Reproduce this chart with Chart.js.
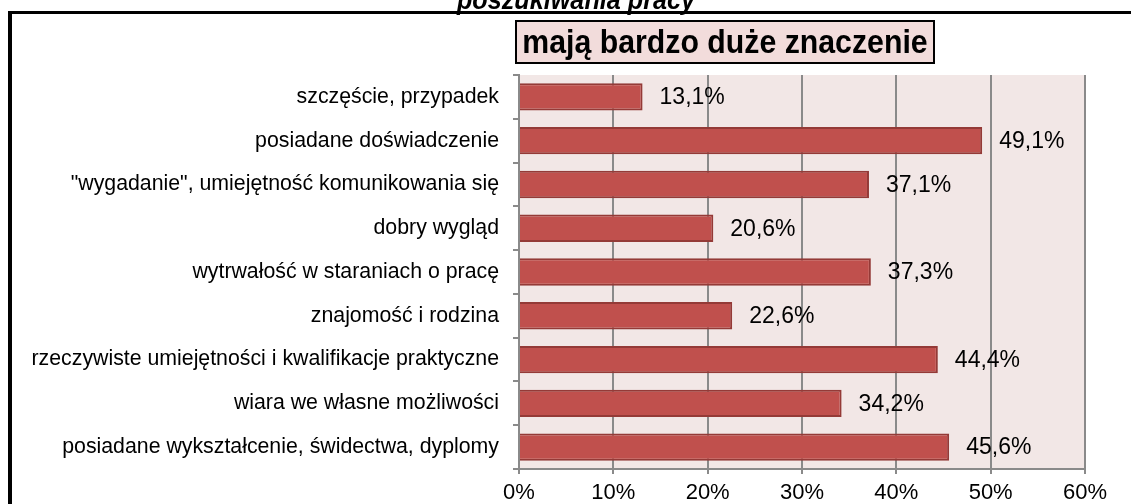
<!DOCTYPE html>
<html>
<head>
<meta charset="utf-8">
<script src="https://cdn.jsdelivr.net/npm/chart.js@4/dist/chart.umd.min.js"></script>
<style>
  html, body { margin: 0; padding: 0; background: #ffffff; overflow: hidden; }
  #wrap { position: relative; width: 1131px; height: 504px; }
  canvas { display: block; }
</style>
</head>
<body>
<div id="wrap"><canvas id="chart" width="1131" height="504"></canvas></div>
<script>
// Categories, top to bottom
const categories = [
  'szczęście, przypadek',
  'posiadane doświadczenie',
  '"wygadanie", umiejętność komunikowania się',
  'dobry wygląd',
  'wytrwałość w staraniach o pracę',
  'znajomość i rodzina',
  'rzeczywiste umiejętności i kwalifikacje praktyczne',
  'wiara we własne możliwości',
  'posiadane wykształcenie, świdectwa, dyplomy'
];

// Share of answers "mają bardzo duże znaczenie", in percent
const values = [13.1, 49.1, 37.1, 20.6, 37.3, 22.6, 44.4, 34.2, 45.6];

// Value axis tick labels (0 to 60 in steps of 10)
const tickLabels = ['0%', '10%', '20%', '30%', '40%', '50%', '60%'];

const chartTitle = 'poszukiwania pracy';
const boxTitle = 'mają bardzo duże znaczenie';

const FONT = "'Liberation Sans', Arial, sans-serif";
const GRID = '#8a8a8a';

function pct(v) {
  return v.toFixed(1).replace('.', ',') + '%';
}

const decorations = {
  id: 'decorations',
  beforeDraw(chart) {
    const { ctx, chartArea: a } = chart;
    ctx.save();
    ctx.fillStyle = '#ffffff';
    ctx.fillRect(0, 0, chart.width, chart.height);
    ctx.fillStyle = '#f2e7e6';
    ctx.fillRect(a.left, a.top, a.right - a.left, a.bottom - a.top);
    ctx.restore();
  },
  afterDatasetsDraw(chart) {
    const { ctx } = chart;
    const meta = chart.getDatasetMeta(0);
    ctx.save();
    ctx.font = '23px ' + FONT;
    ctx.fillStyle = '#000000';
    ctx.textAlign = 'left';
    ctx.textBaseline = 'middle';
    meta.data.forEach((bar, i) => {
      ctx.fillText(pct(values[i]), bar.x + 17, bar.y + 1);
    });
    ctx.restore();
  },
  afterDraw(chart) {
    const { ctx } = chart;
    ctx.save();
    // main title, partly above the top edge
    ctx.save();
    ctx.fillStyle = '#000000';
    ctx.translate(576, 9);
    ctx.scale(0.9, 1);
    ctx.font = 'italic bold 28px ' + FONT;
    ctx.textAlign = 'center';
    ctx.textBaseline = 'alphabetic';
    ctx.fillText(chartTitle, 0, 0);
    ctx.restore();

    // outer frame (left and top edges)
    ctx.fillStyle = '#ffffff';
    ctx.fillRect(0, 11, chart.width, 3);
    ctx.fillStyle = '#000000';
    ctx.fillRect(8, 11, 4, chart.height - 11);
    ctx.fillRect(8, 11, chart.width - 8, 3);

    // boxed heading
    const bx = 516, by = 21, bw = 418, bh = 42;
    ctx.fillStyle = '#f2dcdb';
    ctx.fillRect(bx, by, bw, bh);
    ctx.lineWidth = 2;
    ctx.strokeStyle = '#000000';
    ctx.strokeRect(bx, by, bw, bh);
    ctx.fillStyle = '#000000';
    ctx.translate(bx + bw / 2, 53);
    ctx.scale(0.89, 1);
    ctx.font = 'bold 34px ' + FONT;
    ctx.textAlign = 'center';
    ctx.fillText(boxTitle, 0, 0);
    ctx.restore();
  }
};

new Chart(document.getElementById('chart'), {
  type: 'bar',
  data: {
    labels: categories,
    datasets: [{
      data: values,
      backgroundColor: '#c0504d',
      borderColor: '#943a37',
      borderWidth: 2,
      borderSkipped: 'start',
      categoryPercentage: 1,
      barPercentage: 0.625
    }]
  },
  options: {
    indexAxis: 'y',
    responsive: false,
    animation: false,
    devicePixelRatio: 1,
    layout: { padding: { top: 75, left: 12, right: 46, bottom: 0 } },
    plugins: {
      legend: { display: false },
      tooltip: { enabled: false },
      title: { display: false }
    },
    scales: {
      x: {
        type: 'linear',
        min: 0,
        max: 60,
        afterFit(scale) { scale.height = 35; },
        ticks: {
          stepSize: 10,
          padding: 6,
          color: '#000000',
          font: { family: FONT, size: 22 },
          callback: (v, i) => tickLabels[i]
        },
        grid: {
          color: GRID,
          lineWidth: 2,
          tickLength: 5,
          drawOnChartArea: true
        },
        border: { display: true, color: GRID, width: 2 }
      },
      y: {
        afterFit(scale) { scale.width = 519 - 12; },
        ticks: {
          padding: 14,
          color: '#000000',
          font: { family: FONT, size: 21.3 },
          autoSkip: false
        },
        grid: {
          offset: true,
          color: GRID,
          lineWidth: 2,
          tickLength: 6,
          drawOnChartArea: false
        },
        border: { display: true, color: GRID, width: 2 }
      }
    }
  },
  plugins: [decorations]
});
</script>
</body>
</html>
